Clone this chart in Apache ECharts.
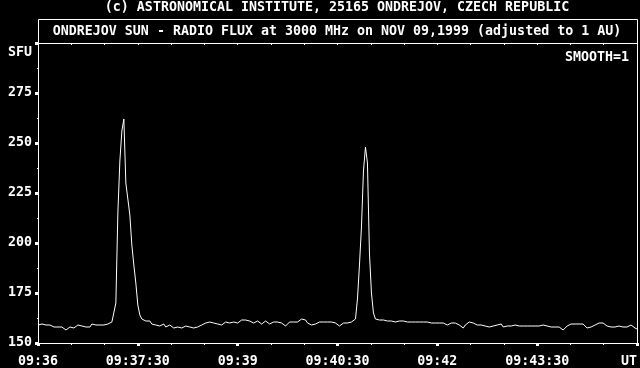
<!DOCTYPE html>
<html><head><meta charset="utf-8">
<script src="https://cdn.jsdelivr.net/npm/echarts@6/dist/echarts.min.js"></script>
<style>html,body{margin:0;padding:0;background:#000}#c{width:640px;height:368px}</style>
</head><body><div id="c"></div>
<script>
const titleTop = '(c) ASTRONOMICAL INSTITUTE, 25165 ONDREJOV, CZECH REPUBLIC';
const titleBox = 'ONDREJOV SUN - RADIO FLUX at 3000 MHz on NOV 09,1999 (adjusted to 1 AU)';
const yUnit = 'SFU';
const smoothNote = 'SMOOTH=1';
const timeUnit = 'UT';
const startTime = '09:36:00';
const endTime = '09:45:00';
const sampleStepSec = 1.8;
const yTicks = [150, 175, 200, 225, 250, 275, 300];
const fluxSFU = [
 159,158.5,159.5,158.5,159,158,159,158.5,158,157.5,
 158,157.5,158,158.5,156.5,157,158,158.5,157.5,158.5,
 159,158,158.5,159.5,158,159,158,159.5,158.5,159,
 158.5,159,159.5,159,160,159.5,160,160.5,161,170,
 215,241,256,262,230,222,214,199,189,180,
 169,164,162,161.5,161,160,161,159.5,158.5,159,
 159.5,158.5,159,159.5,158,158.5,159,158,157.5,158.5,
 158,158.5,157.5,158,158.5,158,158,158.5,157.5,157,
 158,158.5,159,159.5,160,159,160.5,159.5,160,159,
 159.5,160,159,160,160.5,159.5,160,159,160.5,160,
 160,160.5,161.5,161,161.5,160.5,161,161,160,160.5,
 161,160,159.5,160.5,161,160,159.5,160,160.5,160,
 160.5,159.5,160,160,158.5,159.5,160.5,161,160.5,161.5,
 160.5,161,162,162.5,161.5,160,159.5,159,160,159.5,
 160,160.5,161,160.5,161,160.5,160,160.5,160.5,160,
 159,158.5,159.5,160,160.5,160,160.5,160.5,161,162,
 172,189,208,236,248,240,195,175,165,162,
 162.5,161.5,161,161.5,160.5,161,160.5,161,160,160.5,
 160.5,161,160.5,161,161,160.5,161,160.5,161,160.5,
 161,160.5,160,160.5,160,160.5,159.5,160,160.5,160,
 159.5,160,159.5,160,159.5,159,159.5,160,159.5,160,
 159.5,159,158,157.5,159,160,160.5,160.5,160,159.5,
 159,158.5,159,158,158.5,158.5,158,158.5,158.5,158.5,
 159,159.5,159.5,158,157.5,158.5,159,158.5,158.5,159,
 158.5,158.5,159,158.5,158,158.5,159,158.5,159,158.5,
 159,158.5,158.5,159,158,158.5,158.5,158,157.5,158,
 157.5,158,157,156.5,157.5,158.5,159,159.5,159,159.5,
 159,159.5,159,159.5,158.5,157.5,157,158,158.5,159,
 159.5,160,160.5,160,159,158.5,158,158,158.5,158,
 158,158.5,158,158,158.5,158,158.5,159,158.5,157.5,
 157
];

function toSec(s){const p=s.split(':').map(Number);return p[0]*3600+p[1]*60+(p[2]||0);}
function pad(n){return (n<10?'0':'')+n;}
const t0 = toSec(startTime), t1 = toSec(endTime);
const data = fluxSFU.map((v,i)=>[t0 + i*sampleStepSec, v]);

const FONT = '"DejaVu Sans Mono", "Liberation Mono", monospace';
const FS = 13.3;
const W = '#ffffff';

const chart = echarts.init(document.getElementById('c'), null, {renderer:'canvas'});
chart.setOption({
  animation:false,
  backgroundColor:'#000000',
  grid:{left:38, top:43, width:600, height:300, show:false},
  xAxis:[{
    type:'value', min:t0, max:t1, interval:90, position:'bottom',
    axisLine:{show:true, lineStyle:{color:W, width:1}},
    axisTick:{show:true, length:3, inside:false, lineStyle:{color:W, width:3}},
    minorTick:{show:true, splitNumber:3, length:2, lineStyle:{color:W, width:1}},
    splitLine:{show:false},
    axisLabel:{color:W, fontFamily:FONT, fontSize:FS, fontWeight:'bold', margin:12,
      showMaxLabel:true, alignMaxLabel:'right',
      formatter:function(v){
        if (Math.abs(v - t1) < 1e-6) return timeUnit;
        const h=Math.floor(v/3600), m=Math.floor((v%3600)/60), s=Math.round(v%60);
        return pad(h)+':'+pad(m)+(s?':'+pad(s):'');
      }}
  },{
    type:'value', min:t0, max:t1, interval:30, position:'top',
    axisLine:{show:true, lineStyle:{color:W, width:1}},
    axisTick:{show:true, inside:true, length:2, lineStyle:{color:W, width:1}},
    axisLabel:{show:false}, splitLine:{show:false}
  }],
  yAxis:[{
    type:'value', min:yTicks[0], max:yTicks[yTicks.length-1], interval:25,
    axisLine:{show:true, lineStyle:{color:W, width:1}},
    axisTick:{show:true, length:3, lineStyle:{color:W, width:3}},
    minorTick:{show:true, splitNumber:2, length:1, lineStyle:{color:W, width:1}},
    splitLine:{show:false},
    axisLabel:{color:W, fontFamily:FONT, fontSize:FS, fontWeight:'bold', margin:6,
      formatter:function(v){ return v >= yTicks[yTicks.length-1] ? '' : String(v); }}
  },{
    type:'value', min:yTicks[0], max:yTicks[yTicks.length-1], position:'right',
    axisLine:{show:true, lineStyle:{color:W, width:1}},
    axisTick:{show:false}, axisLabel:{show:false}, splitLine:{show:false}
  }],
  graphic:[
    {type:'text', x:337, y:8, style:{text:titleTop, fill:W, font:'bold '+FS+'px '+FONT, align:'center', verticalAlign:'middle'}},
    {type:'rect', shape:{x:38.5, y:19.5, width:599, height:24}, style:{fill:null, stroke:W, lineWidth:1}, silent:true},
    {type:'text', x:337, y:31.5, style:{text:titleBox, fill:W, font:'bold '+FS+'px '+FONT, align:'center', verticalAlign:'middle'}},
    {type:'text', x:629, y:58, style:{text:smoothNote, fill:W, font:'bold '+FS+'px '+FONT, align:'right', verticalAlign:'middle'}},
    {type:'text', x:32, y:53, style:{text:yUnit, fill:W, font:'bold '+FS+'px '+FONT, align:'right', verticalAlign:'middle'}}
  ],
  series:[{
    type:'line', xAxisIndex:0, yAxisIndex:0, data:data, showSymbol:false,
    lineStyle:{color:W, width:1}, smooth:false, silent:true
  }]
});
</script></body></html>
